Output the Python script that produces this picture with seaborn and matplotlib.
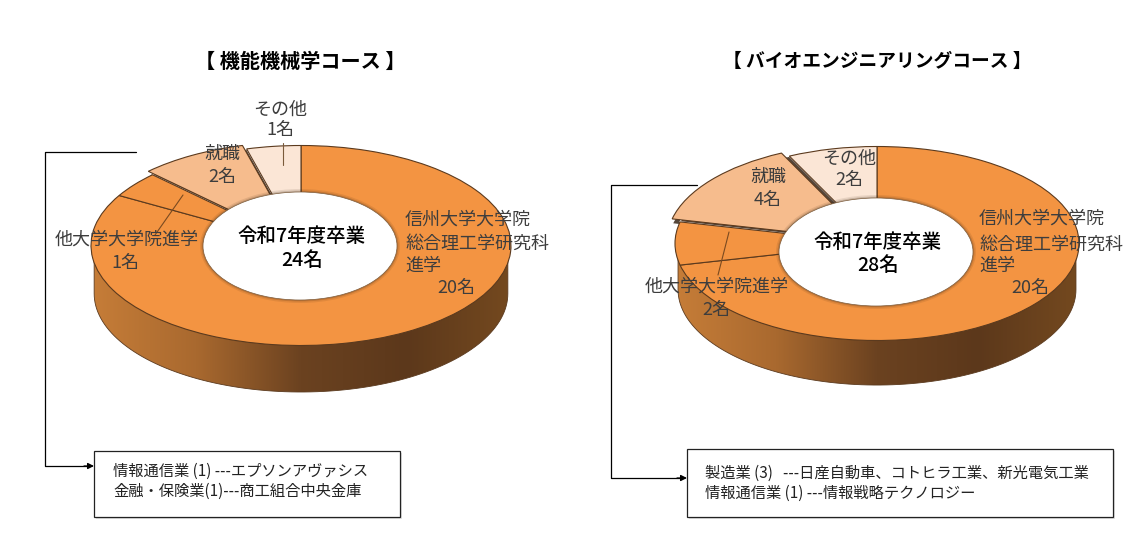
import matplotlib
matplotlib.use("Agg")
import matplotlib.pyplot as plt
from matplotlib.patches import Ellipse, Polygon, Rectangle
import numpy as np
import seaborn as sns

# data
categories = ["信州大学大学院\n総合理工学研究科\n進学", "他大学大学院進学", "就職", "その他"]
values_left = [20, 1, 2, 1]
values_right = [20, 2, 4, 2]
title_left = "【 機能機械学コース 】"
title_right = "【 バイオエンジニアリングコース 】"
center_title = "令和7年度卒業"
jobs_left = ["情報通信業 (1) ---エプソンアヴァシス", "金融・保険業(1)---商工組合中央金庫"]
jobs_right = ["製造業 (3)   ---日産自動車、コトヒラ工業、新光電気工業", "情報通信業 (1) ---情報戦略テクノロジー"]

colors = ["#f39442", "#f39442", "#f6bc8d", "#fbe6d6"]
edge = "#5b3a1e"
label_color = "#3d3d3d"
EXPLODED = 2

sns.set_theme(style="white")
plt.rcParams["font.family"] = ["Noto Sans CJK JP", "DejaVu Sans"]

W, H = 1146, 555
fig = plt.figure(figsize=(W / 100, H / 100), dpi=100, facecolor="white")


def draw_donut(values, cx, cy, rx, ry, depth, hole, explode, drop):
    ax = fig.add_axes([0, 0, 1, 1], facecolor="none")
    limits = ((0 - cx) / rx, (W - cx) / rx), ((cy - H) / ry, cy / ry)
    pie_args = dict(startangle=90, counterclock=False, colors=colors,
                    wedgeprops=dict(edgecolor=edge, linewidth=0.8))

    # side wall with the horizontal shading
    theta = np.linspace(np.pi, 2 * np.pi, 100)
    d = depth / ry
    wall_x = 0.985 * np.cos(theta)
    wall_y = 0.985 * np.sin(theta) - d
    pts = np.column_stack([np.r_[-0.985, wall_x, 0.985], np.r_[0, wall_y, 0]])
    shade = sns.blend_palette(["#c67d38", "#a9692f", "#6b4220", "#5c381b", "#74491f"], 256)
    img = ax.imshow(np.array(shade)[None, :, :], extent=(-1, 1, -1.6, 0), aspect="auto", zorder=0)
    wall = Polygon(pts, closed=True, facecolor="none", edgecolor=edge, linewidth=0.6, zorder=0.5)
    ax.add_patch(wall)
    img.set_clip_path(wall)

    # dark edge seen under and beside the pulled-out slice
    offs = [explode if i == EXPLODED else 0 for i in range(len(values))]
    for under_offs, under_y in [(offs, -drop / ry), ([0] * len(values), 0)]:
        under, _ = ax.pie(values, explode=under_offs, center=(0, under_y),
                          startangle=90, counterclock=False, colors=["#55463a"] * 4)
        for i, w in enumerate(under):
            w.set_visible(i == EXPLODED)
            w.set_zorder(1)

    top, _ = ax.pie(values, **pie_args)
    top[EXPLODED].set_visible(False)
    for w in top:
        w.set_zorder(2)
    pulled, _ = ax.pie(values, explode=offs, **pie_args)
    for i, w in enumerate(pulled):
        w.set_visible(i == EXPLODED)
        w.set_zorder(3)

    # centre hole, with a soft shadow around it
    hx, hy, hrx, hry = hole
    centre = ((hx - cx) / rx, (cy - hy) / ry)
    for grow, alpha in [(3, 0.10), (1.5, 0.18)]:
        ax.add_patch(Ellipse(centre, 2 * (hrx + grow) / rx, 2 * (hry + grow) / ry,
                             facecolor="#3a2410", edgecolor="none", alpha=alpha, zorder=4))
    ax.add_patch(Ellipse(centre, 2 * hrx / rx, 2 * hry / ry, facecolor="white",
                         edgecolor="#7a5a3a", linewidth=0.5, zorder=5))

    ax.set_aspect("auto")
    ax.set_xlim(*limits[0])
    ax.set_ylim(*limits[1])
    ax.axis("off")


draw_donut(values_left, 301, 245.5, 210, 100, 48, (300, 246, 97, 54), 0.04, 4)
draw_donut(values_right, 877, 243.5, 202, 97, 46, (876, 252, 97, 54), 0.05, 5)

# overlay in pixel units for texts, leaders and boxes
ov = fig.add_axes([0, 0, 1, 1], facecolor="none")
ov.set_xlim(0, W)
ov.set_ylim(H, 0)
ov.axis("off")


def label(x, y, s, size=13, ha="center", **kw):
    kw.setdefault("color", label_color)
    ov.text(x, y, s, fontsize=size, ha=ha, va="center", linespacing=1.0, zorder=10, **kw)


def panel_labels(values, name_pos, value_pos, first_x):
    main_lines = categories[0].split("\n")
    for line, y in zip(main_lines, name_pos[0]):
        label(first_x, y, line, ha="left")
    for i in range(1, 4):
        label(*name_pos[i], categories[i])
    for v, pos in zip(values, value_pos):
        label(*pos, f"{v}名")


label(300, 61, title_left, size=14.5, color="black", weight="bold")
label(877, 61, title_right, size=13.5, color="black", weight="bold")

panel_labels(values_left,
             [(220, 244, 266), (127, 240), (222, 154), (280, 110)],
             [(456, 288), (125, 263), (222, 177), (280, 130)], 405)
panel_labels(values_right,
             [(219, 245, 266), (717, 287), (768, 177), (849, 159)],
             [(1030, 288), (716, 310), (768, 200), (849, 180)], 979)

label(302, 237, center_title, size=14, color="black", weight="medium")
label(302, 260, f"{sum(values_left)}名", size=14, color="black", weight="medium")
label(878, 242, center_title, size=14, color="black", weight="medium")
label(878, 265, f"{sum(values_right)}名", size=14, color="black", weight="medium")

# thin leader ticks from slices to labels
ov.plot([283, 283], [143, 165], color="#7a5a3a", lw=0.8, zorder=9)
ov.plot([183, 155], [195, 235], color="#7a4a20", lw=0.8, zorder=9)
ov.plot([729, 718], [232, 275], color="#7a4a20", lw=0.8, zorder=9)

# brackets to the job boxes
ov.plot([136, 45, 45, 88], [152, 152, 466, 466], color="black", lw=0.9, zorder=6)
ov.annotate("", xy=(94, 466), xytext=(84, 466), zorder=6,
            arrowprops=dict(arrowstyle="-|>", color="black", lw=0.9, mutation_scale=9, shrinkA=0, shrinkB=0))
ov.plot([697, 611, 611, 680], [185, 185, 478, 478], color="black", lw=0.9, zorder=0.5)
ov.annotate("", xy=(687, 478), xytext=(677, 478), zorder=6,
            arrowprops=dict(arrowstyle="-|>", color="black", lw=0.9, mutation_scale=9, shrinkA=0, shrinkB=0))

for (x0, y0, x1, y1) in [(94, 451, 400, 517), (687, 449, 1113, 517)]:
    ov.add_patch(Rectangle((x0 + 1.5, y0 + 1.5), x1 - x0, y1 - y0, facecolor="#cccccc", edgecolor="none", alpha=0.6, zorder=6))
    ov.add_patch(Rectangle((x0, y0), x1 - x0, y1 - y0, facecolor="white", edgecolor="#222222", linewidth=0.9, zorder=7))

for lines, x, ys in [(jobs_left, 113, (471, 491)), (jobs_right, 705, (473, 493))]:
    for line, y in zip(lines, ys):
        label(x, y, line, size=11, ha="left", color="#222222")

fig.savefig("out.png", dpi=100)
